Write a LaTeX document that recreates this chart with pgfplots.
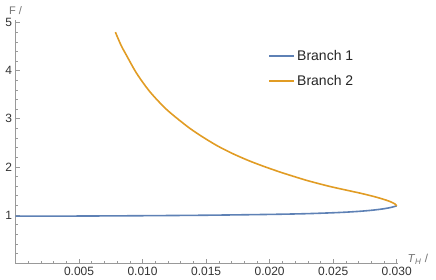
\documentclass[border=0pt]{standalone}
\usepackage{pgfplots}
\pgfplotsset{compat=1.18}
\usepackage{fontspec}
\setmainfont{Liberation Sans}
\definecolor{mblue}{rgb}{0.368417,0.506779,0.709798}
\definecolor{morange}{rgb}{0.880722,0.611041,0.142051}
\definecolor{axgray}{gray}{0.6}
\begin{document}
\begin{tikzpicture}
\useasboundingbox (0,0) rectangle (436pt,279pt);
\begin{axis}[
  at={(15.5pt,15.9pt)}, anchor=south west,
  scale only axis, width=382.5pt, height=243pt,
  xmin=0, xmax=0.0301, ymin=0, ymax=5.05,
  axis lines*=left,
  axis line style={axgray, line width=0.6pt},
  tick align=inside,
  major tick length=4pt, minor tick length=2.5pt,
  every tick/.style={axgray, line width=0.5pt},
  xtick={0.005,0.010,0.015,0.020,0.025,0.030},
  minor xtick={0.001,0.002,0.003,0.004,0.006,0.007,0.008,0.009,0.011,0.012,0.013,0.014,0.016,0.017,0.018,0.019,0.021,0.022,0.023,0.024,0.026,0.027,0.028,0.029},
  ytick={1,2,3,4,5},
  minor ytick={0.2,0.4,0.6,0.8,1.2,1.4,1.6,1.8,2.2,2.4,2.6,2.8,3.2,3.4,3.6,3.8,4.2,4.4,4.6,4.8},
  scaled x ticks=false,
  xticklabel style={/pgf/number format/fixed, /pgf/number format/fixed zerofill, /pgf/number format/precision=3},
  /pgf/number format/assume math mode=true,
  ticklabel style={font=\fontsize{12}{14}\selectfont, text=black!80},
  xlabel={\textit{T}\textsubscript{\textit{H}} /},
  ylabel={F /},
  xlabel style={at={(axis description cs:1,0)}, anchor=west, font=\fontsize{11.5}{13}\selectfont, text=black!55, xshift=6pt, yshift=4pt},
  ylabel style={at={(axis description cs:0,1)}, anchor=south, rotate=-90, font=\fontsize{11}{13}\selectfont, text=black!55, yshift=2pt, xshift=0pt},
  legend style={draw=none, fill=none, at={(axis cs:0.0199,4.47)}, anchor=north west, font=\fontsize{14}{16}\selectfont, text=black!85, row sep=9.5pt, inner sep=0pt},
  legend cell align=left,
  legend image code/.code={\draw[#1, line width=1.6pt] (0pt,0pt) -- (25pt,0pt);},
  clip=false,
]
\addplot[mblue, line width=1.6pt, smooth] coordinates {
(0.0000,0.975) (0.0050,0.978) (0.0100,0.985) (0.0150,0.995) (0.0200,1.012)
(0.0230,1.028) (0.0255,1.052) (0.0270,1.075) (0.0281,1.100) (0.0290,1.130)
(0.02960,1.160) (0.03000,1.19)
};
\addlegendentry{Branch 1}
\addplot[morange, line width=1.6pt, smooth] coordinates {
(0.03000,1.19) (0.02985,1.23) (0.02960,1.265) (0.02921,1.305) (0.02860,1.355)
(0.02789,1.405) (0.02710,1.455) (0.02632,1.50) (0.02475,1.592) (0.02317,1.700)
(0.02240,1.760) (0.02105,1.872) (0.01977,1.988) (0.01845,2.119) (0.01711,2.273)
(0.01583,2.445) (0.01450,2.66) (0.01347,2.85) (0.01190,3.19) (0.01058,3.56)
(0.00954,3.94) (0.00875,4.31) (0.00830,4.53) (0.00786,4.80)
};
\addlegendentry{Branch 2}
\end{axis}
\end{tikzpicture}
\end{document}
